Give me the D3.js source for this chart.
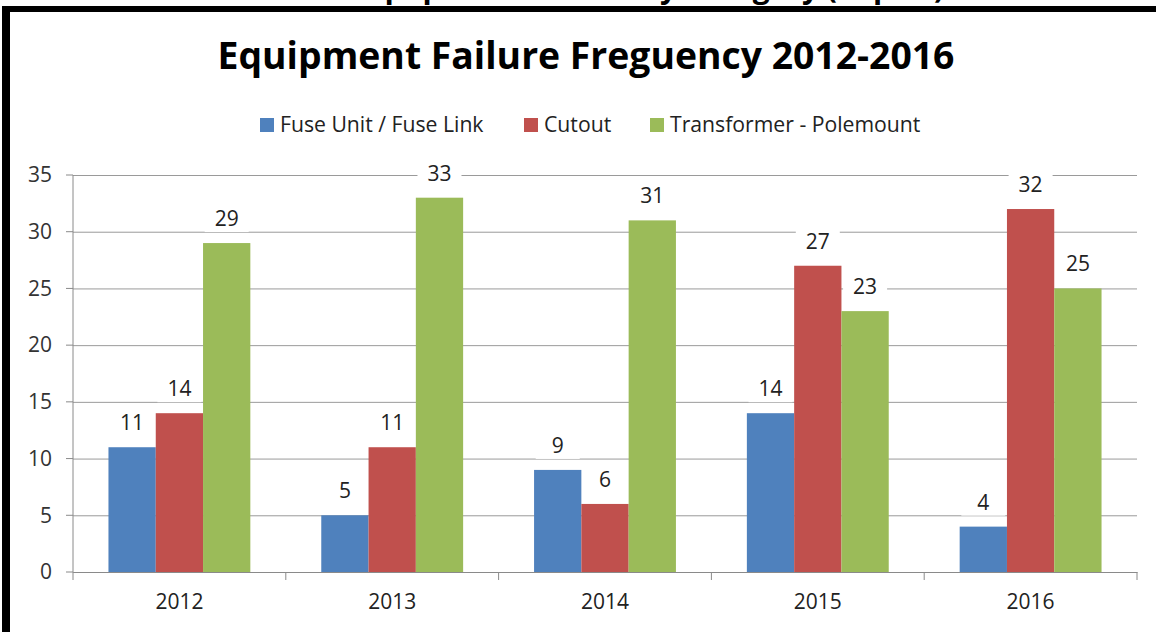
<!DOCTYPE html>
<html>
<head>
<meta charset="utf-8">
<script src="https://cdn.jsdelivr.net/npm/d3@7"></script>
<style>
  body { margin: 0; background: #fff; }
  text { font-family: "Open Sans", Lato, sans-serif; }
</style>
</head>
<body>
<div id="chart"></div>
<script>
// Chart data
var years = ["2012", "2013", "2014", "2015", "2016"];
var seriesNames = ["Fuse Unit / Fuse Link", "Cutout", "Transformer - Polemount"];
var fuseValues = [11, 5, 9, 14, 4];
var cutoutValues = [14, 11, 6, 27, 32];
var transformerValues = [29, 33, 31, 23, 25];
var yTicks = [0, 5, 10, 15, 20, 25, 30, 35];
var colors = ["#4F81BD", "#C0504D", "#9BBB59"];

var chartTitle = "Equipment Failure Freguency 2012-2016";
var headerTitle = "Equipment Failure by Category (Top 10)";

// Build a table from the arrays
var seriesValues = [fuseValues, cutoutValues, transformerValues];
var tableData = years.map(function(y, i) {
  return { year: y, values: seriesNames.map(function(s, j) { return { name: s, value: seriesValues[j][i], idx: j }; }) };
});

// SVG area
var svgWidth = 1156;
var svgHeight = 632;
var plot = { left: 73, right: 1137, top: 175, bottom: 572 };

var svg = d3.select("#chart")
  .append("svg")
  .attr("width", svgWidth)
  .attr("height", svgHeight);

svg.append("rect").attr("width", svgWidth).attr("height", svgHeight).attr("fill", "#fff");

// shrink/grow a text so that it spans a given width
function fitWidth(sel, target) {
  var w = sel.node().getComputedTextLength();
  var fs = parseFloat(sel.style("font-size"));
  sel.style("font-size", (fs * target / w) + "px");
}

// Cut-off header above the frame (only its descenders show in the reference)
svg.append("text")
  .attr("x", 651)
  .attr("y", -2)
  .attr("text-anchor", "middle")
  .style("font-size", "30px")
  .style("font-weight", "bold")
  .attr("fill", "#000")
  .text(headerTitle);

// Black frame (left and top edges)
svg.append("rect").attr("x", 2).attr("y", 6).attr("width", svgWidth).attr("height", 6).attr("fill", "#000");
svg.append("rect").attr("x", 2).attr("y", 6).attr("width", 8).attr("height", svgHeight).attr("fill", "#000");

// Title
var title = svg.append("text")
  .attr("x", 586)
  .attr("y", 69)
  .attr("text-anchor", "middle")
  .style("font-size", "32px")
  .style("font-weight", "bold")
  .attr("fill", "#000")
  .text(chartTitle);
fitWidth(title, 737);

// Scales
var xScale = d3.scaleBand()
  .domain(years)
  .range([plot.left, plot.right])
  .padding(0);

var xInner = d3.scaleBand()
  .domain(seriesNames)
  .range([0, xScale.bandwidth()])
  .paddingInner(0)
  .paddingOuter(0.75);

var yScale = d3.scaleLinear()
  .domain([0, 35])
  .range([plot.bottom, plot.top]);

// Gridlines + y axis
var leftAxis = d3.axisLeft(yScale)
  .tickValues(yTicks)
  .tickSize(-(plot.right - plot.left))
  .tickPadding(21);

var yAxisG = svg.append("g")
  .attr("transform", `translate(${plot.left},0)`)
  .call(leftAxis);
yAxisG.select(".domain").remove();
yAxisG.selectAll(".tick line").attr("stroke", "#9a9a9a").attr("stroke-width", 1);
yAxisG.selectAll(".tick text")
  .attr("fill", "#333")
  .style("font-size", "21px")
  .style("font-family", "'Open Sans', Lato, sans-serif");

// Small outer tick marks on y axis
svg.append("g").selectAll("line")
  .data(yTicks)
  .enter()
  .append("line")
  .attr("x1", plot.left - 7)
  .attr("x2", plot.left)
  .attr("y1", d => yScale(d))
  .attr("y2", d => yScale(d))
  .attr("stroke", "#8a8a8a");

// Y axis line
svg.append("line")
  .attr("x1", plot.left).attr("x2", plot.left)
  .attr("y1", plot.top).attr("y2", plot.bottom)
  .attr("stroke", "#8a8a8a");

// Bars
var groups = svg.selectAll(".group")
  .data(tableData)
  .enter()
  .append("g")
  .attr("class", "group")
  .attr("transform", d => `translate(${xScale(d.year)},0)`);

groups.selectAll(".bar")
  .data(d => d.values)
  .enter()
  .append("rect")
  .attr("class", "bar")
  .attr("x", d => xInner(d.name))
  .attr("y", d => yScale(d.value))
  .attr("width", xInner.bandwidth())
  .attr("height", d => plot.bottom - yScale(d.value))
  .attr("fill", d => colors[d.idx]);

// X axis
var bottomAxis = d3.axisBottom(xScale).tickSize(0).tickPadding(22);
var xAxisG = svg.append("g")
  .attr("transform", `translate(0,${plot.bottom})`)
  .call(bottomAxis);
xAxisG.select(".domain").attr("stroke", "#8a8a8a");
xAxisG.selectAll(".tick text")
  .attr("fill", "#222")
  .style("font-size", "21px")
  .style("font-family", "'Open Sans', Lato, sans-serif");

// Category boundary tick marks
var boundaries = years.map(y => xScale(y)).concat([plot.right]);
svg.append("g").selectAll("line")
  .data(boundaries)
  .enter()
  .append("line")
  .attr("x1", d => d).attr("x2", d => d)
  .attr("y1", plot.bottom).attr("y2", plot.bottom + 8)
  .attr("stroke", "#8a8a8a");

// Data labels with white background
var labels = groups.selectAll(".lbl")
  .data(d => d.values)
  .enter()
  .append("g")
  .attr("class", "lbl")
  .attr("transform", d => `translate(${xInner(d.name) + xInner.bandwidth() / 2},${yScale(d.value) - 17})`);

labels.append("rect")
  .attr("x", -22)
  .attr("y", -20)
  .attr("width", 44)
  .attr("height", 26)
  .attr("fill", "#fff");

labels.append("text")
  .attr("text-anchor", "middle")
  .attr("fill", "#222")
  .style("font-size", "21px")
  .text(d => d.value);

// Legend
var legendItems = [
  { name: seriesNames[0], x: 260, w: 205 },
  { name: seriesNames[1], x: 524, w: 67 },
  { name: seriesNames[2], x: 650, w: 250 }
];
var legend = svg.selectAll(".legend")
  .data(legendItems)
  .enter()
  .append("g")
  .attr("class", "legend")
  .attr("transform", d => `translate(${d.x},125)`);

legend.append("rect")
  .attr("x", 0)
  .attr("y", -7)
  .attr("width", 14)
  .attr("height", 14)
  .attr("fill", (d, i) => colors[i]);

legend.append("text")
  .attr("x", 20)
  .attr("y", 7)
  .attr("fill", "#222")
  .style("font-size", "20px")
  .text(d => d.name);

// one common legend size matching the reference widths
var legendTexts = legend.selectAll("text");
var ratio = d3.mean(legendTexts.nodes(), (n, i) => legendItems[i].w / n.getComputedTextLength());
legendTexts.style("font-size", (20 * ratio) + "px");
</script>
</body>
</html>
